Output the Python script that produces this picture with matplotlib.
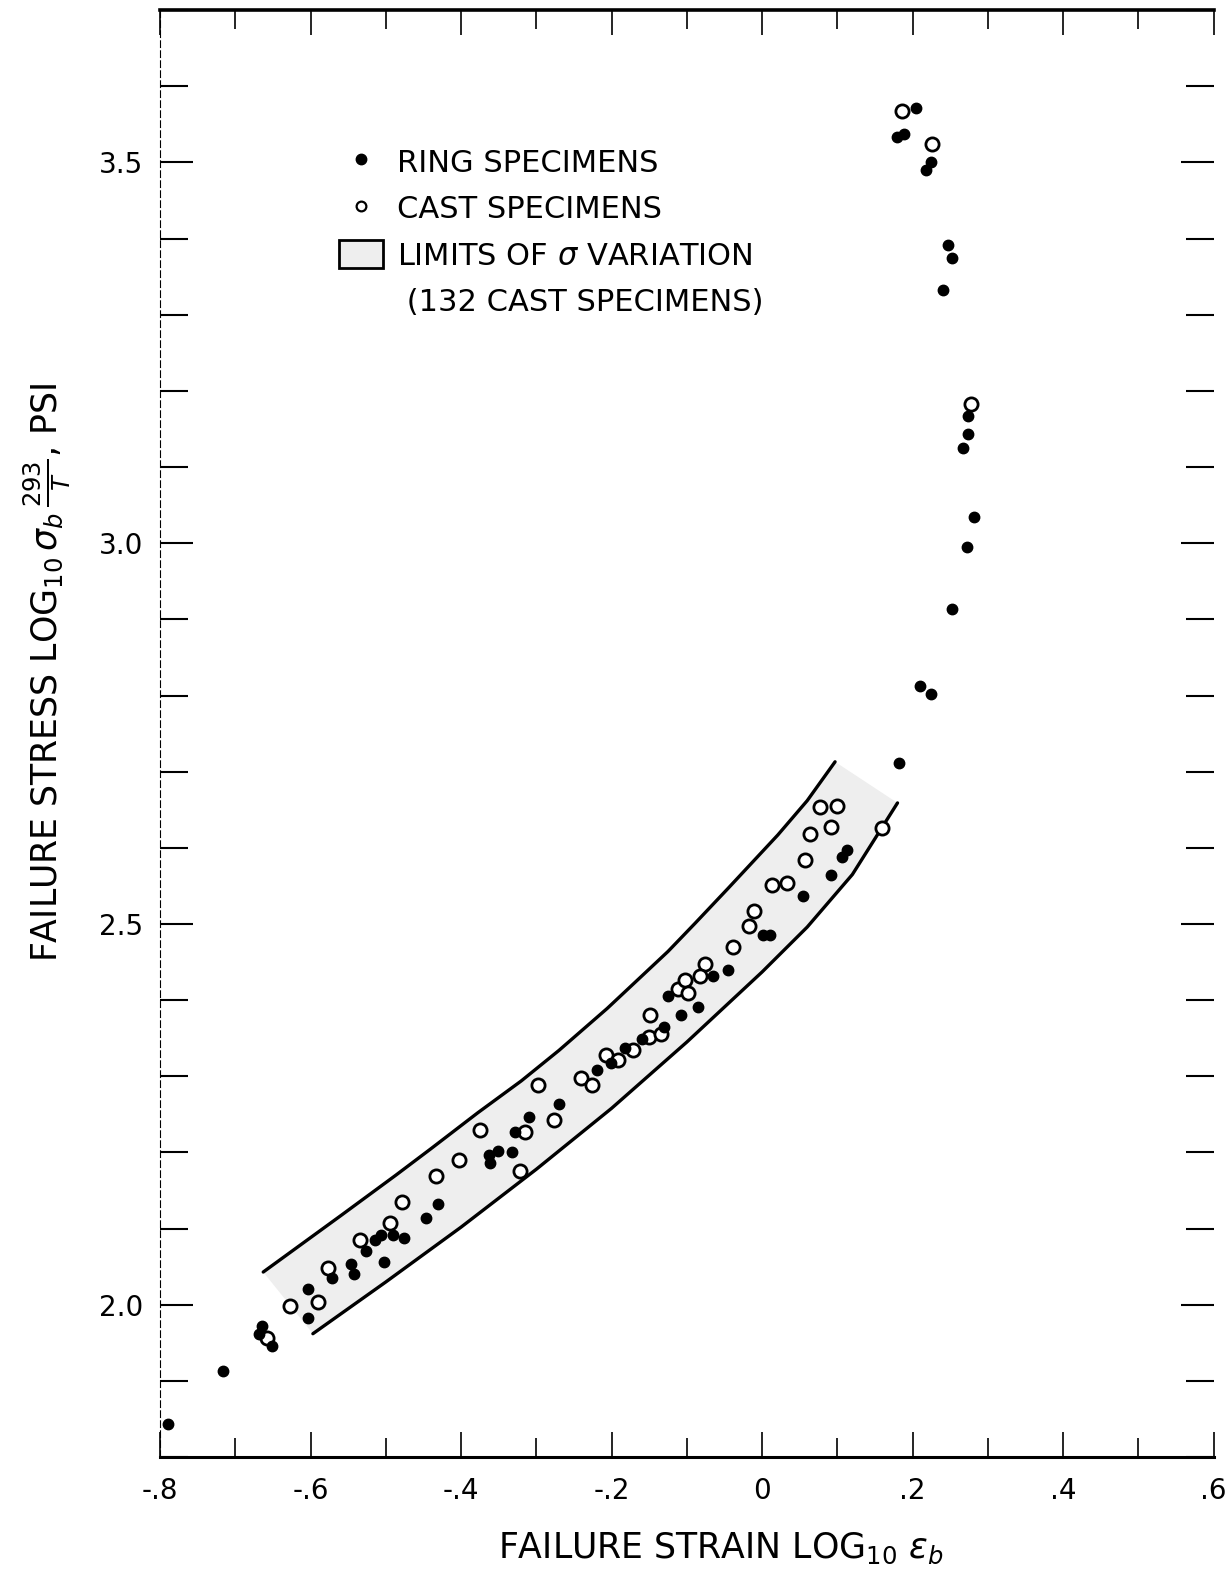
import matplotlib
matplotlib.use("Agg")
import matplotlib.pyplot as plt
import numpy as np
from matplotlib.lines import Line2D
from matplotlib.patches import Patch
from matplotlib.ticker import MultipleLocator

plt.rcParams['font.family'] = ['DejaVu Sans']
plt.rcParams['mathtext.fontset'] = 'dejavusans'

# ---------------- data ----------------
ring_x = [-0.789, -0.717,
          -0.664, -0.668, -0.652, -0.604, -0.604, -0.571, -0.546, -0.543, -0.526, -0.515,
          -0.506, -0.491, -0.476, -0.502, -0.447, -0.431,
          -0.363, -0.351, -0.361, -0.332, -0.328, -0.310, -0.270,
          -0.220, -0.201, -0.182, -0.160, -0.131, -0.108, -0.125, -0.085, -0.065, -0.045,
          0.001, 0.010, 0.055, 0.091, 0.106, 0.113,
          0.182, 0.210, 0.224, 0.252, 0.272, 0.281, 0.267, 0.274, 0.274, 0.241, 0.252,
          0.247, 0.218, 0.225, 0.179, 0.189, 0.205]
ring_y = [1.843, 1.913,
          1.972, 1.962, 1.946, 2.021, 1.983, 2.035, 2.053, 2.041, 2.070, 2.085,
          2.092, 2.092, 2.088, 2.056, 2.114, 2.132,
          2.197, 2.202, 2.186, 2.201, 2.227, 2.246, 2.264,
          2.308, 2.317, 2.337, 2.349, 2.365, 2.380, 2.405, 2.391, 2.432, 2.439,
          2.486, 2.486, 2.537, 2.564, 2.588, 2.597,
          2.712, 2.813, 2.802, 2.914, 2.995, 3.034, 3.125, 3.144, 3.167, 3.333, 3.375,
          3.392, 3.490, 3.500, 3.534, 3.538, 3.572]

cast_x = [-0.658, -0.627, -0.590, -0.577, -0.534, -0.494, -0.478, -0.433,
          -0.403, -0.375, -0.315, -0.322, -0.298, -0.276, -0.241, -0.226,
          -0.208, -0.191, -0.172, -0.150, -0.149, -0.134, -0.112, -0.103, -0.098, -0.076, -0.082,
          -0.039, -0.017, -0.011, 0.013, 0.033, 0.057, 0.064, 0.091, 0.077, 0.100, 0.160,
          0.278, 0.186, 0.226]
cast_y = [1.957, 1.999, 2.004, 2.048, 2.085, 2.107, 2.135, 2.169,
          2.190, 2.229, 2.227, 2.176, 2.289, 2.242, 2.298, 2.289,
          2.328, 2.321, 2.334, 2.352, 2.380, 2.355, 2.415, 2.426, 2.409, 2.448, 2.432,
          2.470, 2.498, 2.517, 2.551, 2.554, 2.584, 2.618, 2.627, 2.654, 2.655, 2.626,
          3.183, 3.568, 3.524]

# limits of sigma variation (band)
upper_x = [-0.663, -0.560, -0.487, -0.440, -0.378, -0.320, -0.270, -0.206, -0.125, -0.089, -0.045, 0.021, 0.060, 0.097]
upper_y = [2.043, 2.117, 2.170, 2.205, 2.252, 2.294, 2.334, 2.389, 2.464, 2.501, 2.547, 2.617, 2.662, 2.713]
lower_x = [-0.597, -0.500, -0.400, -0.300, -0.200, -0.100, 0.000, 0.060, 0.120, 0.180]
lower_y = [1.962, 2.030, 2.102, 2.178, 2.258, 2.345, 2.437, 2.496, 2.565, 2.659]

x_ticks = [-0.8, -0.6, -0.4, -0.2, 0.0, 0.2, 0.4, 0.6]
x_tick_labels = ["-.8", "-.6", "-.4", "-.2", "0", ".2", ".4", ".6"]
y_ticks = [2.0, 2.5, 3.0, 3.5]
y_tick_labels = ["2.0", "2.5", "3.0", "3.5"]

legend_labels = ["RING SPECIMENS", "CAST SPECIMENS", r"LIMITS OF $\sigma$ VARIATION", " (132 CAST SPECIMENS)"]

band_color = '#eeeeee'

# ---------------- figure ----------------
fig = plt.figure(figsize=(12.32, 15.90), dpi=100)
ax = fig.add_axes([0.130, 0.0836, 0.855, 0.910])
ax.set_xlim(-0.8, 0.6)
ax.set_ylim(1.8, 3.7)

# band polygon: upper curve then lower curve reversed
poly_x = list(upper_x) + list(lower_x[::-1])
poly_y = list(upper_y) + list(lower_y[::-1])
ax.fill(poly_x, poly_y, color=band_color, lw=0, zorder=1)
ax.plot(upper_x, upper_y, color='black', lw=2.4, solid_capstyle='round', zorder=2)
ax.plot(lower_x, lower_y, color='black', lw=2.4, solid_capstyle='round', zorder=2)

ax.plot(ring_x, ring_y, 'o', color='black', ms=7.5, mec='black', zorder=4, ls='none')
ax.plot(cast_x, cast_y, 'o', mfc='white', mec='black', mew=2.0, ms=9.5, zorder=3, ls='none')

# ticks
ax.set_xticks(x_ticks)
ax.set_xticklabels(x_tick_labels)
ax.set_yticks(y_ticks)
ax.set_yticklabels(y_tick_labels)
ax.xaxis.set_minor_locator(MultipleLocator(0.1))
ax.yaxis.set_minor_locator(MultipleLocator(0.1))
ax.tick_params(axis='both', which='both', direction='in', top=True, right=True,
               labelsize=20, colors='black')
ax.tick_params(axis='x', which='major', length=18, width=1.2, pad=14)
ax.tick_params(axis='x', which='minor', length=14, width=1.2)
ax.tick_params(axis='y', which='major', length=24, width=1.5, pad=12)
ax.tick_params(axis='y', which='minor', length=20, width=1.5)

ax.spines['left'].set_linewidth(0.8)
ax.spines['left'].set_linestyle((0, (6, 3)))
ax.spines['right'].set_visible(False)
ax.spines['top'].set_linewidth(2.6)
ax.spines['bottom'].set_linewidth(2.2)

# legend
handles = [Line2D([], [], marker='o', color='black', ls='none', ms=7.5),
           Line2D([], [], marker='o', mfc='white', mec='black', mew=1.6, ls='none', ms=7),
           Patch(facecolor=band_color, edgecolor='black', lw=2.0),
           Line2D([], [], ls='none')]
leg = ax.legend(handles, legend_labels, loc='upper left', bbox_to_anchor=(0.155, 0.916),
                frameon=False, fontsize=22, handlelength=1.45, handleheight=1.05,
                handletextpad=0.45, labelspacing=0.52, borderpad=0)

fig.text(0.038, 0.577, r"FAILURE STRESS LOG$_{10}\,\sigma_b\,\frac{293}{T}$, PSI",
         rotation=90, ha='center', va='center', fontsize=25)
fig.text(0.585, 0.026, r"FAILURE STRAIN LOG$_{10}\ \epsilon_b$",
         ha='center', va='center', fontsize=25)

fig.savefig("out.png", dpi=100)
